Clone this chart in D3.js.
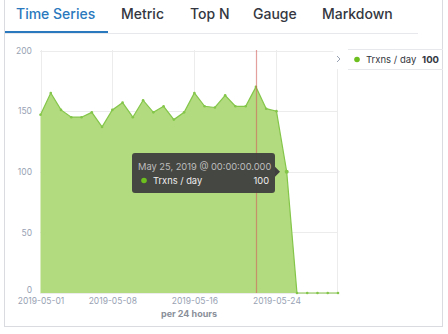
<!DOCTYPE html>
<html><head><meta charset="utf-8">
<script src="https://cdn.jsdelivr.net/npm/d3@7"></script>
<style>
html,body{margin:0;padding:0;background:#fff;}
svg{display:block;font-family:Inter,"Open Sans",sans-serif;}
</style></head>
<body>
<script>
const dates = ["2019-05-01","2019-05-02","2019-05-03","2019-05-04","2019-05-05","2019-05-06","2019-05-07","2019-05-08","2019-05-09","2019-05-10","2019-05-11","2019-05-12","2019-05-13","2019-05-14","2019-05-15","2019-05-16","2019-05-17","2019-05-18","2019-05-19","2019-05-20","2019-05-21","2019-05-22","2019-05-23","2019-05-24","2019-05-25","2019-05-26","2019-05-27","2019-05-28","2019-05-29","2019-05-30"];
const trxns = [147,165,151,145,145,149,137,151,157,145,159,149,154,143,149,165,154,153,163,154,154,170,152,150,100,0,0,0,0,0];
const xTicks = ["2019-05-01","2019-05-08","2019-05-16","2019-05-24"];
const yTicks = [0,50,100,150,200];
const tabs = ["Time Series","Metric","Top N","Gauge","Markdown"];
const seriesName = "Trxns / day";
const nowMarker = "2019-05-22";
const hoverDate = "2019-05-25";
const hoverLabel = "May 25, 2019 @ 00:00:00.000";
const axisTitle = "per 24 hours";

const W=448,H=334;
const parse=d3.utcParse("%Y-%m-%d");
const svg=d3.select("body").append("svg").attr("width",W).attr("height",H);

// panel border
svg.append("rect").attr("x",4.5).attr("y",-1).attr("width",438).attr("height",327.5)
  .attr("fill","none").attr("stroke","#d9dbe0");

// tabs
const tabX=[16,121,190,253,322];
svg.append("line").attr("x1",5).attr("x2",418).attr("y1",33.5).attr("y2",33.5).attr("stroke","#e6e8ec");
svg.append("line").attr("x1",5).attr("x2",108).attr("y1",32).attr("y2",32).attr("stroke","#2a78bd").attr("stroke-width",2);
svg.selectAll("text.tab").data(tabs).enter().append("text")
  .attr("x",(d,i)=>tabX[i]).attr("y",19).attr("font-size",14).attr("font-weight",500)
  .attr("fill",(d,i)=>i===0?"#2a78bd":"#343741").text(d=>d);

const x=d3.scaleUtc().domain([parse(dates[0]),parse(dates[dates.length-1])]).range([40.5,338]);
const y=d3.scaleLinear().domain([0,200]).range([293,50.5]);

// grid
svg.append("g").selectAll("line").data(yTicks).enter().append("line")
  .attr("x1",40).attr("x2",338).attr("y1",d=>Math.round(y(d))+0.5).attr("y2",d=>Math.round(y(d))+0.5)
  .attr("stroke","#ececec");
svg.append("g").selectAll("line").data(xTicks).enter().append("line")
  .attr("x1",d=>Math.round(x(parse(d)))+0.5).attr("x2",d=>Math.round(x(parse(d)))+0.5)
  .attr("y1",50).attr("y2",293).attr("stroke","#ececec");
svg.append("line").attr("x1",337.5).attr("x2",337.5).attr("y1",50).attr("y2",293).attr("stroke","#ececec");

const pts=dates.map((d,i)=>({date:parse(d),v:trxns[i]}));
svg.append("path").datum(pts)
  .attr("d",d3.area().x(d=>x(d.date)).y0(y(0)).y1(d=>y(d.v)))
  .attr("fill","#b2da7e");
svg.append("path").datum(pts)
  .attr("d",d3.line().x(d=>x(d.date)).y(d=>y(d.v)))
  .attr("fill","none").attr("stroke","#84c64a").attr("stroke-width",1.2);
svg.append("g").selectAll("circle").data(pts).enter().append("circle")
  .attr("cx",d=>x(d.date)).attr("cy",d=>y(d.v)).attr("r",1.3).attr("fill","#84c64a");

// now marker
svg.append("line").attr("x1",Math.round(x(parse(nowMarker)))+0.5).attr("x2",Math.round(x(parse(nowMarker)))+0.5)
  .attr("y1",50).attr("y2",293).attr("stroke","#d0605a").attr("stroke-opacity",0.6).attr("stroke-width",1.2);

// axes labels
const yAxis=d3.axisLeft(y).tickValues(yTicks).tickSize(0).tickPadding(0);
const gy=svg.append("g").attr("transform","translate(32,0)").call(yAxis);
gy.select(".domain").remove();
gy.selectAll("text").attr("font-size",8.5).attr("fill","#98a2b3").attr("font-family","Inter,sans-serif");
gy.selectAll(".tick").filter(d=>d===0).select("text").attr("dy","-0.05em");

const xAxis=d3.axisBottom(x).tickValues(xTicks.map(parse)).tickFormat(d3.utcFormat("%Y-%m-%d")).tickSize(0).tickPadding(0);
const gx=svg.append("g").attr("transform","translate(0,298)").call(xAxis);
gx.select(".domain").remove();
gx.selectAll("text").attr("font-size",8.5).attr("fill","#98a2b3").attr("font-family","Inter,sans-serif");

svg.append("text").attr("x",189).attr("y",317).attr("text-anchor","middle").attr("font-size",9)
  .attr("font-weight",700).attr("fill","#8a8f99").text(axisTitle);

// legend
svg.append("line").attr("x1",348).attr("x2",443).attr("y1",49.5).attr("y2",49.5).attr("stroke","#e6e8ec");
svg.append("line").attr("x1",348).attr("x2",443).attr("y1",69.5).attr("y2",69.5).attr("stroke","#e6e8ec");
svg.append("rect").attr("x",333).attr("y",50).attr("width",14).attr("height",19).attr("rx",3).attr("fill","#fff");
svg.append("path").attr("d","M337,56 L340,59 L337,62").attr("fill","none").attr("stroke","#98a2b3").attr("stroke-width",1);
svg.append("circle").attr("cx",357).attr("cy",59.5).attr("r",2.8).attr("fill","#6cbf1e");
svg.append("text").attr("x",366).attr("y",63).attr("font-size",9.5).attr("fill","#343741").text(seriesName);
svg.append("text").attr("x",439).attr("y",63).attr("text-anchor","end").attr("font-size",9.5).attr("font-weight",700).attr("fill","#343741").text(trxns[dates.indexOf(hoverDate)]);

// hover point
const hx=x(parse(hoverDate)), hy=y(trxns[dates.indexOf(hoverDate)]);
svg.append("circle").attr("cx",hx).attr("cy",hy).attr("r",2).attr("fill","#84c64a");

// tooltip
const tt=svg.append("g");
tt.append("rect").attr("x",132).attr("y",153).attr("width",143).attr("height",40).attr("rx",3).attr("fill","#3f3f3f").attr("fill-opacity",0.95);
tt.append("path").attr("d",`M275,${hy-5} L280,${hy} L275,${hy+5} Z`).attr("fill","#3f3f3f");
tt.append("text").attr("x",138).attr("y",170).attr("font-size",9.3).attr("fill","#bdbdbd").text(hoverLabel);
tt.append("circle").attr("cx",144).attr("cy",180.5).attr("r",2.8).attr("fill","#6cbf1e");
tt.append("text").attr("x",153).attr("y",184).attr("font-size",9.3).attr("fill","#eeeeee").text(seriesName);
tt.append("text").attr("x",269).attr("y",184).attr("text-anchor","end").attr("font-size",9.3).attr("fill","#eeeeee").text(trxns[dates.indexOf(hoverDate)]);
</script>
</body></html>
